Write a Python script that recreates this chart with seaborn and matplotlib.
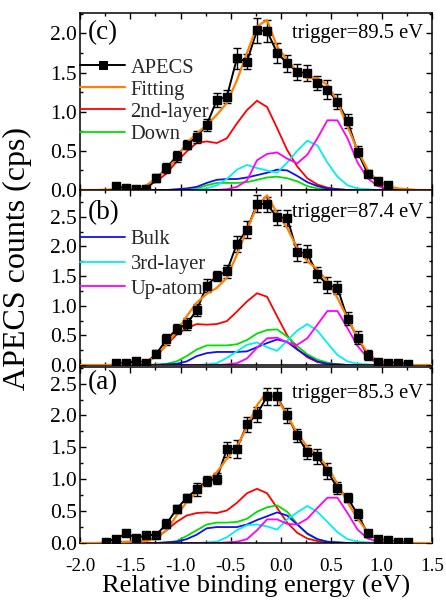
import numpy as np
import pandas as pd
import matplotlib
matplotlib.use("Agg")
import matplotlib.pyplot as plt
from matplotlib.ticker import MultipleLocator
import seaborn as sns

sns.set_theme(style="ticks")
plt.rcParams['font.family'] = ['Liberation Serif', 'DejaVu Serif']
plt.rcParams['axes.unicode_minus'] = False
plt.rcParams['mathtext.fontset'] = 'stix'

# ---------------- data ----------------
# model curves are on the grid -1.94 ... 1.46 (step 0.1); values given from a start x
GRID = np.round(np.arange(-1.94, 1.47, 0.1), 2)

# panel (c): trigger = 89.5 eV
c_x0 = -1.64
c_apecs = [0.05, 0.02, 0.01, 0.01, 0.15, 0.28, 0.43, 0.58, 0.68, 0.83, 1.15, 1.19, 1.68, 1.64,
           2.04, 2.03, 1.75, 1.62, 1.51, 1.49, 1.37, 1.28, 1.13, 0.88, 0.49, 0.21, 0.11, 0.06]
c_err = [0.02, 0.02, 0.02, 0.02, 0.05, 0.06, 0.07, 0.06, 0.075, 0.075, 0.085, 0.085, 0.13, 0.10,
         0.16, 0.14, 0.13, 0.11, 0.10, 0.10, 0.09, 0.12, 0.09, 0.085, 0.07, 0.05, 0.04, 0.03]
c_fit = (-1.74, [0.005, 0.01, 0.01, 0.02, 0.06, 0.15, 0.26, 0.40, 0.60, 0.72, 0.83, 0.96, 1.11, 1.40,
                 1.75, 2.09, 2.17, 1.83, 1.66, 1.51, 1.43, 1.43, 1.34, 1.13, 0.81, 0.51, 0.26, 0.11,
                 0.05, 0.02, 0.01])
c_second = (-1.44, [0.01, 0.04, 0.11, 0.21, 0.36, 0.49, 0.60, 0.62, 0.60, 0.66, 0.85, 1.02, 1.14,
                    1.06, 0.79, 0.51, 0.30, 0.15, 0.07, 0.03, 0.01])
c_down = (-0.94, [0.01, 0.02, 0.06, 0.09, 0.09, 0.09, 0.10, 0.13, 0.16, 0.17, 0.15, 0.11, 0.05,
                  0.02, 0.01])
c_bulk = (-1.04, [0.01, 0.02, 0.04, 0.09, 0.13, 0.14, 0.14, 0.16, 0.19, 0.22, 0.26, 0.25, 0.18,
                  0.10, 0.05, 0.02, 0.01])
c_third = (-0.84, [0.01, 0.02, 0.06, 0.14, 0.26, 0.32, 0.28, 0.25, 0.22, 0.35, 0.50, 0.63, 0.57,
                   0.35, 0.17, 0.06, 0.02, 0.01])
c_up = (-0.54, [0.01, 0.04, 0.12, 0.38, 0.46, 0.48, 0.40, 0.34, 0.45, 0.66, 0.89, 0.89, 0.66,
                0.35, 0.15, 0.05, 0.01])

# panel (b): trigger = 87.4 eV
b_x0 = -1.64
b_apecs = [0.03, 0.03, 0.07, 0.04, 0.19, 0.43, 0.60, 0.69, 0.92, 1.34, 1.50, 1.58, 2.04, 2.28,
           2.72, 2.71, 2.49, 2.48, 1.90, 1.88, 1.53, 1.35, 1.30, 0.78, 0.46, 0.17, 0.05, 0.04,
           0.04, 0.02]
b_err = [0.02, 0.02, 0.03, 0.02, 0.06, 0.085, 0.085, 0.10, 0.10, 0.11, 0.085, 0.11, 0.13, 0.14,
         0.14, 0.13, 0.13, 0.13, 0.14, 0.14, 0.13, 0.14, 0.11, 0.11, 0.11, 0.08, 0.04, 0.03,
         0.03, 0.03]
b_fit = (-1.64, [0.01, 0.01, 0.02, 0.05, 0.15, 0.34, 0.57, 0.82, 1.05, 1.20, 1.30, 1.47, 1.86,
                 2.28, 2.68, 2.86, 2.56, 2.31, 1.97, 1.75, 1.61, 1.41, 1.13, 0.79, 0.46, 0.20,
                 0.06, 0.02, 0.01])
b_second = (-1.44, [0.02, 0.05, 0.15, 0.34, 0.51, 0.62, 0.69, 0.68, 0.69, 0.74, 0.90, 1.07, 1.21,
                    1.15, 0.82, 0.50, 0.27, 0.13, 0.05, 0.02, 0.01])
b_down = (-1.24, [0.01, 0.02, 0.06, 0.15, 0.26, 0.33, 0.33, 0.33, 0.35, 0.42, 0.53, 0.59, 0.60,
                  0.48, 0.32, 0.18, 0.09, 0.04, 0.01])
b_bulk = (-1.14, [0.01, 0.02, 0.06, 0.15, 0.20, 0.22, 0.22, 0.22, 0.23, 0.30, 0.37, 0.43, 0.39,
                  0.26, 0.15, 0.06, 0.02, 0.01])
b_third = (-0.74, [0.01, 0.03, 0.12, 0.23, 0.34, 0.38, 0.30, 0.24, 0.41, 0.58, 0.69, 0.58, 0.37,
                   0.17, 0.06, 0.02, 0.01])
b_up = (-0.54, [0.01, 0.03, 0.11, 0.29, 0.45, 0.46, 0.38, 0.34, 0.45, 0.68, 0.91, 0.91, 0.62,
                0.32, 0.12, 0.03, 0.01])

# panel (a): trigger = 85.3 eV
a_x0 = -1.74
a_apecs = [0.02, 0.07, 0.15, 0.08, 0.12, 0.13, 0.30, 0.53, 0.71, 0.84, 0.97, 1.01, 1.47, 1.48,
           1.86, 2.02, 2.30, 2.30, 2.00, 1.69, 1.42, 1.36, 1.13, 0.86, 0.71, 0.45, 0.15, 0.06,
           0.04, 0.02, 0.01]
a_err = [0.02, 0.03, 0.04, 0.03, 0.03, 0.04, 0.07, 0.065, 0.065, 0.10, 0.08, 0.09, 0.12, 0.14,
         0.12, 0.12, 0.13, 0.13, 0.12, 0.10, 0.11, 0.12, 0.12, 0.09, 0.07, 0.09, 0.05, 0.03,
         0.03, 0.02, 0.02]
a_fit = (-1.74, [0.01, 0.01, 0.02, 0.02, 0.03, 0.07, 0.20, 0.43, 0.64, 0.80, 0.96, 1.11, 1.32,
                 1.51, 1.82, 2.16, 2.37, 2.27, 2.00, 1.72, 1.51, 1.38, 1.19, 0.93, 0.64, 0.38,
                 0.17, 0.06, 0.02, 0.01])
a_second = (-1.54, [0.01, 0.02, 0.04, 0.09, 0.20, 0.33, 0.43, 0.47, 0.48, 0.47, 0.51, 0.63, 0.78,
                    0.85, 0.78, 0.55, 0.32, 0.16, 0.07, 0.03, 0.01])
a_down = (-1.14, [0.01, 0.03, 0.11, 0.20, 0.29, 0.32, 0.32, 0.33, 0.38, 0.49, 0.56, 0.59, 0.49,
                  0.30, 0.14, 0.06, 0.02, 0.01])
a_bulk = (-1.14, [0.01, 0.02, 0.06, 0.13, 0.23, 0.25, 0.25, 0.25, 0.29, 0.36, 0.42, 0.48, 0.43,
                  0.29, 0.15, 0.06, 0.02, 0.01])
a_third = (-0.74, [0.01, 0.02, 0.09, 0.20, 0.28, 0.29, 0.26, 0.21, 0.37, 0.48, 0.58, 0.49, 0.33,
                   0.17, 0.06, 0.02, 0.01])
a_up = (-0.54, [0.01, 0.02, 0.06, 0.20, 0.37, 0.37, 0.30, 0.29, 0.38, 0.55, 0.71, 0.71, 0.47,
                0.21, 0.07, 0.02, 0.01])

triggers = ["trigger=89.5 eV", "trigger=87.4 eV", "trigger=85.3 eV"]
panel_labels = ["(c)", "(b)", "(a)"]
x_ticks = [-2.0, -1.5, -1.0, -0.5, 0.0, 0.5, 1.0, 1.5]

COLORS = {"Fitting": "#FF7F00", "2nd-layer": "#FF0000", "Down": "#00E000",
          "Bulk": "#1010F0", "3rd-layer": "#00F0F0", "Up-atom": "#FF00FF"}


def full_curve(seg):
    """place a segment on the full grid (zero outside), padded to the axis ends"""
    x0, vals = seg
    y = np.zeros(len(GRID))
    i0 = int(round((x0 - GRID[0]) / 0.1))
    y[i0:i0 + len(vals)] = vals
    xs = np.concatenate([[-2.0], GRID, [1.5]])
    ys = np.concatenate([[0.0], y, [0.0]])
    return xs, ys


panels = [
    dict(x0=c_x0, y=c_apecs, e=c_err, fit=c_fit, comps=[("2nd-layer", c_second), ("Down", c_down),
         ("Bulk", c_bulk), ("3rd-layer", c_third), ("Up-atom", c_up)], ylim=2.26,
         yt=[0, 0.5, 1.0, 1.5, 2.0], lab_y=0.887, trig_y=0.887),
    dict(x0=b_x0, y=b_apecs, e=b_err, fit=b_fit, comps=[("2nd-layer", b_second), ("Down", b_down),
         ("Bulk", b_bulk), ("3rd-layer", b_third), ("Up-atom", b_up)], ylim=2.95,
         yt=[0, 0.5, 1.0, 1.5, 2.0, 2.5], lab_y=0.869, trig_y=0.874),
    dict(x0=a_x0, y=a_apecs, e=a_err, fit=a_fit, comps=[("2nd-layer", a_second), ("Down", a_down),
         ("Bulk", a_bulk), ("3rd-layer", a_third), ("Up-atom", a_up)], ylim=2.76,
         yt=[0, 0.5, 1.0, 1.5, 2.0, 2.5], lab_y=0.909, trig_y=0.852),
]

W, H = 446, 602
fig = plt.figure(figsize=(W / 100, H / 100), dpi=100)
fig.patch.set_facecolor("white")
boxes = [(13, 190), (190, 365), (367, 543)]
L, R = 80, 432
FS_Y = 15.5     # y tick labels
FS_X = 13.8     # x tick labels
FS_T = 14.8     # trigger / legend text
FS_P = 19.5     # panel labels

axes = []
for k, (p, (top, bot)) in enumerate(zip(panels, boxes)):
    ax = fig.add_axes([L / W, 1 - bot / H, (R - L) / W, (bot - top) / H])
    ax.set_facecolor("white")
    axes.append(ax)
    handles = {}
    for name, seg in p["comps"]:
        xs, ys = full_curve(seg)
        sns.lineplot(x=xs, y=ys, ax=ax, color=COLORS[name], lw=1.3, sort=False,
                     estimator=None, zorder=2)
        handles[name] = ax.lines[-1]
    xd = np.round(p["x0"] + 0.1 * np.arange(len(p["y"])), 2)
    df = pd.DataFrame({"x": xd, "y": p["y"]})
    sns.lineplot(data=df, x="x", y="y", ax=ax, color="black", lw=1.4, marker="s",
                 markersize=5.8, markeredgecolor="black", sort=False, estimator=None, zorder=3)
    handles["APECS"] = ax.lines[-1]
    ax.errorbar(xd, p["y"], yerr=p["e"], fmt="none", ecolor="black", elinewidth=1.0,
                capsize=3, capthick=1.0, zorder=3)
    xs, ys = full_curve(p["fit"])
    sns.lineplot(x=xs, y=ys, ax=ax, color=COLORS["Fitting"], lw=1.6, sort=False,
                 estimator=None, zorder=4)
    handles["Fitting"] = ax.lines[-1]
    # re-draw markers above the fit line
    ax.plot(xd, p["y"], ls="none", marker="s", ms=5.8, color="black", zorder=5)

    ax.set_xlim(-2.0, 1.5)
    ax.set_ylim(0, p["ylim"])
    ax.set_yticks(p["yt"])
    ax.set_yticklabels([f"{v:.1f}" for v in p["yt"]], fontsize=FS_Y)
    ax.set_xticks(x_ticks)
    ax.xaxis.set_minor_locator(MultipleLocator(0.25))
    ax.yaxis.set_minor_locator(MultipleLocator(0.25))
    ax.tick_params(which="both", direction="in", top=True, right=True, width=1.0, colors="black")
    ax.tick_params(which="major", length=4.5)
    ax.tick_params(which="minor", length=2.5)
    ax.tick_params(axis="y", pad=2)
    ax.tick_params(axis="x", pad=11)
    if k < 2:
        ax.set_xticklabels([])
    else:
        ax.set_xticklabels([f"{v:.1f}" for v in x_ticks], fontsize=FS_X)
    ax.set_xlabel("")
    ax.set_ylabel("")
    for s in ax.spines.values():
        s.set_color("black")
        s.set_linewidth(1.1)
    ax.text(0.022, p["lab_y"], panel_labels[k], transform=ax.transAxes, fontsize=FS_P,
            ha="left", va="center", color="black")
    ax.text(0.975, p["trig_y"], triggers[k], transform=ax.transAxes, fontsize=FS_T,
            ha="right", va="center", color="black")
    if k == 0:
        names = ["APECS", "Fitting", "2nd-layer", "Down"]
        ax.legend([handles[n] for n in names], names, loc="upper left",
                  bbox_to_anchor=(0.0, 0.745), frameon=False, fontsize=FS_T, borderaxespad=0,
                  borderpad=0, handlelength=2.2, handletextpad=0.26, labelspacing=0.13)
    elif k == 1:
        names = ["Bulk", "3rd-layer", "Up-atom"]
        ax.legend([handles[n] for n in names], names, loc="upper left",
                  bbox_to_anchor=(0.0, 0.775), frameon=False, fontsize=FS_T, borderaxespad=0,
                  borderpad=0, handlelength=2.2, handletextpad=0.26, labelspacing=0.27)
    else:
        if ax.get_legend():
            ax.get_legend().remove()

axes[2].set_xlabel("Relative binding energy (eV)", fontsize=19, labelpad=0, color="black")
fig.text(17 / W, 1 - 259 / H, "APECS counts (cps)", rotation=90, fontsize=23,
         ha="center", va="center", color="black")

fig.savefig("out.png", dpi=100, facecolor="white")
